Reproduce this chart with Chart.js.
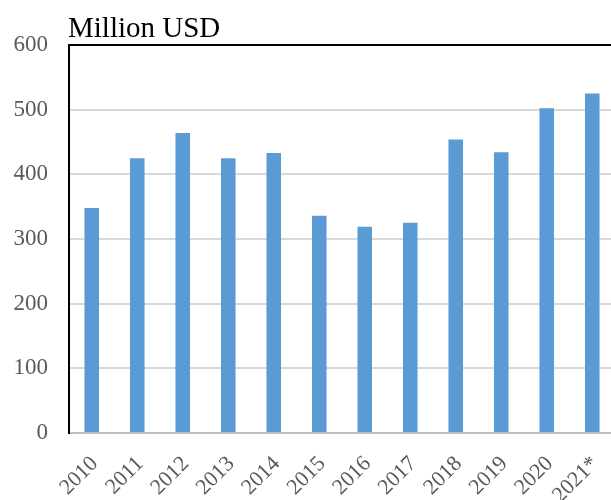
<!DOCTYPE html>
<html>
<head>
<meta charset="utf-8">
<script src="https://cdn.jsdelivr.net/npm/chart.js@4"></script>
<style>
  html, body { margin: 0; padding: 0; background: #fff; overflow: hidden; }
  #wrap { position: relative; width: 615px; height: 500px; }
</style>
</head>
<body>
<div id="wrap"><canvas id="chart"></canvas></div>
<script>
const years = ["2010", "2011", "2012", "2013", "2014", "2015", "2016", "2017", "2018", "2019", "2020", "2021*"];
const values = [348, 425, 464, 425, 433, 336, 319, 325, 454, 434, 502, 525];
const unitLabel = "Million USD";

const serif = "'Liberation Serif', 'Times New Roman', serif";

// title above the plot plus the black frame line on top
const frame = {
  id: "frame",
  afterDraw(chart) {
    const { ctx, chartArea } = chart;
    ctx.save();
    ctx.strokeStyle = "#000";
    ctx.lineWidth = 2;
    ctx.beginPath();
    ctx.moveTo(chartArea.left, chartArea.top);
    ctx.lineTo(chartArea.right, chartArea.top);
    ctx.stroke();
    ctx.fillStyle = "#000";
    ctx.font = "29px " + serif;
    ctx.textAlign = "left";
    ctx.textBaseline = "alphabetic";
    ctx.fillText(unitLabel, chartArea.left - 1, chartArea.top - 8);
    ctx.restore();
  }
};

new Chart(document.getElementById("chart"), {
  type: "bar",
  data: {
    labels: years,
    datasets: [{
      data: values,
      backgroundColor: "#5b9bd5",
      borderWidth: 0,
      barPercentage: 0.32,
      categoryPercentage: 1
    }]
  },
  options: {
    responsive: true,
    maintainAspectRatio: false,
    animation: false,
    layout: { padding: { top: 45, left: 0, right: 0, bottom: 0 } },
    plugins: { legend: { display: false }, tooltip: { enabled: false } },
    scales: {
      x: {
        afterFit: s => { s.height = 67; s.paddingLeft = 0; s.paddingRight = 0; },
        grid: { display: false, drawTicks: false },
        border: { color: "#bfbfbf", width: 2 },
        ticks: {
          autoSkip: false, minRotation: 45, maxRotation: 45,
          padding: 18, labelOffset: 3, color: "#595959",
          font: { family: serif, size: 22 }
        }
      },
      y: {
        min: 0, max: 600,
        afterFit: s => { s.width = 69; },
        grid: { color: "#d9d9d9", lineWidth: 2, drawTicks: false },
        border: { color: "#000", width: 2 },
        ticks: {
          stepSize: 100, padding: 21, color: "#595959",
          font: { family: serif, size: 23 }
        }
      }
    }
  },
  plugins: [frame]
});
</script>
</body>
</html>
